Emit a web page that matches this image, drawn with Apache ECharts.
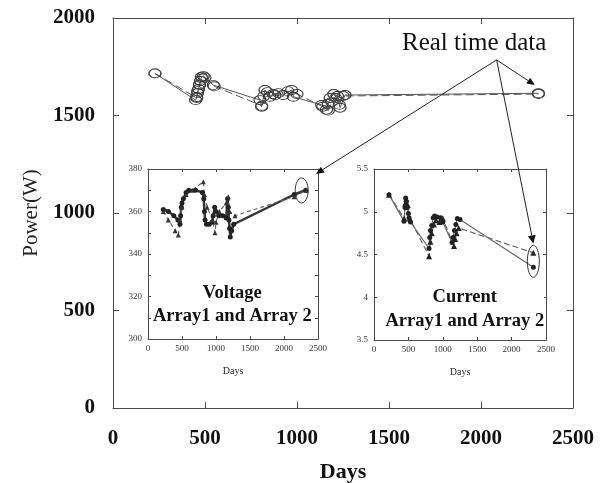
<!DOCTYPE html>
<html><head><meta charset="utf-8">
<script src="https://cdn.jsdelivr.net/npm/echarts@6/dist/echarts.min.js"></script>
<style>html,body{margin:0;padding:0;background:#fff}#c{width:605px;height:483px}</style>
</head><body><div id="c"></div>
<script>
// ---------- DATA ----------
// Main chart: Power (W) vs Days
const powerArray1 = [[228,1716],[449,1579],[455,1595],[460,1615],[465,1636],[470,1656],[475,1677],[480,1698],[491,1702],[545,1656],[799,1579],[808,1545],[826,1631],[853,1596],[880,1605],[924,1605],[971,1631],[980,1596],[1134,1554],[1160,1530],[1170,1560],[1180,1590],[1200,1610],[1220,1600],[1234,1540],[1261,1605],[2312,1614]];
const powerArray2 = [[228,1716],[455,1590],[460,1625],[470,1660],[485,1690],[500,1695],[550,1650],[808,1550],[820,1600],[840,1620],[870,1610],[900,1615],[950,1625],[1000,1610],[1140,1545],[1170,1525],[1190,1570],[1210,1590],[1230,1555],[1250,1600],[2312,1610]];
// Voltage inset (V)
const voltArray1 = [[225,361],[300,360],[380,358],[440,356],[470,354],[480,358],[490,362],[500,364],[520,366],[560,369],[600,370],[700,370],[800,369],[820,366],[830,360],[840,356],[860,354],[900,354],[940,355],[960,358],[980,362],[1000,360],[1040,358],[1100,358],[1150,357],[1170,366],[1180,362],[1190,356],[1200,352],[1210,348],[1230,351],[1260,354],[2150,368],[2320,370]];
const voltArray2 = [[225,360],[300,356],[400,351],[446,349],[470,356],[500,362],[560,368],[650,370],[813,374],[830,368],[870,362],[950,356],[985,350],[1000,355],[1050,360],[1150,364],[1180,367],[1200,360],[1280,358],[2150,367],[2330,370]];
// Current inset (A)
const currArray1 = [[218,5.20],[436,4.89],[450,5.05],[460,5.16],[470,5.12],[484,5.05],[500,4.98],[509,4.93],[530,4.88],[800,4.57],[810,4.70],[820,4.78],[840,4.84],[860,4.93],[880,4.95],[920,4.94],[969,4.93],[1000,4.88],[1134,4.64],[1150,4.70],[1170,4.78],[1190,4.85],[1211,4.92],[1250,4.91],[2316,4.35]];
const currArray2 = [[218,5.20],[440,4.92],[455,5.10],[470,5.15],[490,5.08],[520,4.92],[800,4.48],[820,4.65],[840,4.75],[870,4.85],[900,4.90],[950,4.88],[1000,4.92],[1163,4.60],[1180,4.68],[1200,4.75],[1230,4.81],[2316,4.52]];
// Axis ranges / ticks
const daysRange = [0, 2500, 500];
const powerRange = [0, 2000, 500];
const voltRange = [300, 380, 10];
const currRange = [3.5, 5.5, 0.5];
// Annotation anchors (data coordinates in respective grids)
const noteText = 'Real time data';
const noteOrigin = [2085, 1785];            // main grid
const noteTargetMain = [2293, 1656];        // main grid
const noteTargetVolt = [2470, 377.7];       // voltage grid
const noteTargetCurr = [2316, 4.63];        // current grid
const voltEllipse = [2260, 369.9];
const currEllipse = [2316, 4.42];

// ---------- CHART ----------
const serif = 'Liberation Serif';
const axisColor = '#4a4a4a';
const plain = v => String(v);
function mkX(grid, pos, show, fs, bold) {
  return {type:'value', gridIndex:grid, position:pos, min:daysRange[0], max:daysRange[1], interval:daysRange[2],
    axisLine:{show:true, onZero:false, lineStyle:{color:axisColor, width:1}},
    axisTick:{show:true, inside:true, length: grid===0?6:3, lineStyle:{color:axisColor}},
    axisLabel:{show:show, fontFamily:serif, fontSize:fs, fontWeight:bold?'bold':'normal', color: bold?'#111':'#333', margin: bold?20:5, formatter: plain},
    splitLine:{show:false}};
}
function mkY(grid, pos, show, range, fs, bold, fmt) {
  return {type:'value', gridIndex:grid, position:pos, min:range[0], max:range[1], interval:range[2],
    axisLine:{show:true, onZero:false, lineStyle:{color:axisColor, width:1}},
    axisTick:{show:true, inside:true, length: grid===0?6:3, lineStyle:{color:axisColor}},
    axisLabel:{show:show, fontFamily:serif, fontSize:fs, fontWeight:bold?'bold':'normal', color: bold?'#111':'#333', margin: bold?18:6, formatter: fmt || plain},
    splitLine:{show:false}};
}
const xAxes = [
  Object.assign(mkX(0,'bottom',true,21,true), {name:'Days', nameLocation:'middle', nameGap:53, nameTextStyle:{fontFamily:serif, fontSize:22, fontWeight:'bold', color:'#111'}}),
  mkX(0,'top',false,21,true),
  Object.assign(mkX(1,'bottom',true,9,false), {name:'Days', nameLocation:'middle', nameGap:27, nameTextStyle:{fontFamily:serif, fontSize:10, color:'#222'}}),
  mkX(1,'top',false,9,false),
  Object.assign(mkX(2,'bottom',true,9,false), {name:'Days', nameLocation:'middle', nameGap:27, nameTextStyle:{fontFamily:serif, fontSize:10, color:'#222'}}),
  mkX(2,'top',false,9,false)
];
const yAxes = [
  Object.assign(mkY(0,'left',true,powerRange,21,true), {name:'Power(W)', nameLocation:'middle', nameGap:68, nameRotate:90, nameTextStyle:{fontFamily:serif, fontSize:21, color:'#222'}}),
  mkY(0,'right',false,powerRange,21,true),
  mkY(1,'left',true,voltRange,9,false, v => (v % 20 === 0 ? String(v) : '')),
  mkY(1,'right',false,voltRange,9,false),
  mkY(2,'left',true,currRange,9,false),
  mkY(2,'right',false,currRange,9,false)
];
const chart = echarts.init(document.getElementById('c'), null, {renderer:'canvas'});
const option = {
  animation:false,
  backgroundColor:'#fff',
  grid:[
    {left:113, top:18, width:460, height:390, outerBoundsMode:'none', containLabel:false},
    {left:148, top:169, width:170, height:170, show:true, backgroundColor:'#fff', borderWidth:0, outerBoundsMode:'none', containLabel:false},
    {left:374, top:169, width:172, height:171, show:true, backgroundColor:'#fff', borderWidth:0, outerBoundsMode:'none', containLabel:false}
  ],
  xAxis:xAxes,
  yAxis:yAxes,
  series:[
    {name:'Power Array1', type:'line', xAxisIndex:0, yAxisIndex:0, data:powerArray1, symbol:'circle', symbolSize:[12,9],
      itemStyle:{color:'rgba(255,255,255,0)', borderColor:'#333', borderWidth:1}, lineStyle:{color:'#555', width:1}},
    {name:'Power Array2', type:'line', xAxisIndex:0, yAxisIndex:0, data:powerArray2, symbol:'circle', symbolSize:[12,9],
      itemStyle:{color:'rgba(255,255,255,0)', borderColor:'#444', borderWidth:1}, lineStyle:{color:'#555', width:1, type:[8,4]}},
    {name:'Voltage Array1', type:'line', xAxisIndex:2, yAxisIndex:2, data:voltArray1, symbol:'circle', symbolSize:5,
      itemStyle:{color:'#222'}, lineStyle:{color:'#333', width:2.5}},
    {name:'Voltage Array2', type:'line', xAxisIndex:2, yAxisIndex:2, data:voltArray2, symbol:'triangle', symbolSize:5,
      itemStyle:{color:'#333'}, lineStyle:{color:'#666', width:1.2, type:[4,3]}},
    {name:'Current Array1', type:'line', xAxisIndex:4, yAxisIndex:4, data:currArray1, symbol:'circle', symbolSize:5,
      itemStyle:{color:'#222'}, lineStyle:{color:'#666', width:1.2}},
    {name:'Current Array2', type:'line', xAxisIndex:4, yAxisIndex:4, data:currArray2, symbol:'triangle', symbolSize:6,
      itemStyle:{color:'#222'}, lineStyle:{color:'#666', width:1.2, type:[6,3]}}
  ]
};
chart.setOption(option);

// ---------- ANNOTATIONS ----------
function px(gridIdx, pt) {
  return chart.convertToPixel({gridIndex: gridIdx}, pt);
}
function arrow(from, to, len, half) {
  const dx = to[0]-from[0], dy = to[1]-from[1];
  const d = Math.sqrt(dx*dx+dy*dy), ux = dx/d, uy = dy/d;
  const bx = to[0]-ux*len, by = to[1]-uy*len;
  return [
    {type:'line', shape:{x1:from[0], y1:from[1], x2:bx, y2:by}, style:{stroke:'#222', lineWidth:1}, z:100},
    {type:'polygon', shape:{points:[[to[0],to[1]],[bx-uy*half, by+ux*half],[bx+uy*half, by-ux*half]]}, style:{fill:'#111'}, z:100}
  ];
}
const o = px(0, noteOrigin);
const tMain = px(0, noteTargetMain);
const tVolt = px(1, noteTargetVolt);
const tCurr = px(2, noteTargetCurr);
const eV = px(1, voltEllipse);
const eC = px(2, currEllipse);
const vBox = px(1, [1240, 316.3]);
const cBox = px(2, [1320, 3.86]);
const graphics = [].concat(
  arrow(o, tMain, 8, 3.5),
  arrow(o, tVolt, 8, 3.5),
  arrow(o, tCurr, 8, 4),
  [
    {type:'text', left: 402, top: 31, style:{text:noteText, font:'25px "Liberation Serif"', fill:'#111'}, z:100},
    {type:'ellipse', shape:{cx:eV[0], cy:eV[1], rx:6.5, ry:12.5}, style:{fill:'none', stroke:'#333', lineWidth:1}, z:50},
    {type:'ellipse', shape:{cx:eC[0], cy:eC[1], rx:6, ry:16}, style:{fill:'none', stroke:'#333', lineWidth:1}, z:50},
    {type:'text', x:vBox[0], y:vBox[1], style:{text:'Voltage\nArray1 and Array 2', font:'bold 18.5px "Liberation Serif"', fill:'#111', align:'center', verticalAlign:'middle', lineHeight:23, backgroundColor:'#fff'}, z:60},
    {type:'text', x:cBox[0], y:cBox[1], style:{text:'Current\nArray1 and Array 2', font:'bold 18.5px "Liberation Serif"', fill:'#111', align:'center', verticalAlign:'middle', lineHeight:24, backgroundColor:'#fff'}, z:60}
  ]
);
chart.setOption({graphic: graphics});
</script>
</body></html>
